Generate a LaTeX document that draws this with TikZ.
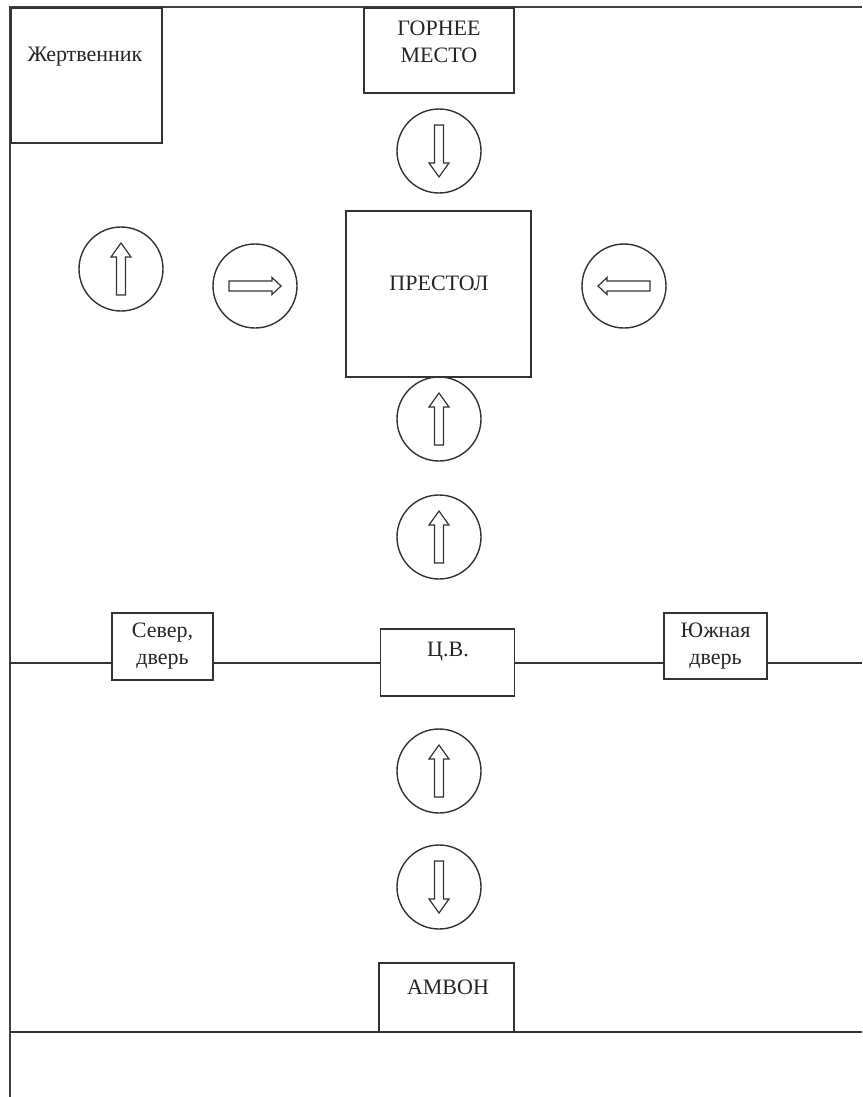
\documentclass[tikz,border=0pt]{standalone}
\usepackage{fontspec}
\setmainfont{Liberation Serif}
\begin{document}
\begin{tikzpicture}[x=1pt,y=-1pt,
  ink/.style={draw=black!80, line width=1.5pt},
  frameline/.style={draw=black!75, line width=2pt},
  box/.style={ink, rectangle, inner sep=0pt, outer sep=0pt, fill=white},
  ring/.style={draw=black!80, line width=1.4pt, circle, inner sep=0pt, outer sep=0pt, minimum size=84pt},
  lbl/.style={inner sep=0pt, align=center, font=\fontsize{22}{27}\selectfont, text=black!85},
  arrowline/.style={draw=black!80, line width=1.2pt, fill=white, line join=miter},
  varrow/.pic={\draw[arrowline] (-26,-4.5) -- (12,-4.5) -- (12,-10) -- (26,0) -- (12,10) -- (12,4.5) -- (-26,4.5) -- cycle;},
  harrow/.pic={\draw[arrowline] (-26,-5) -- (17,-5) -- (17,-8.5) -- (26,0) -- (17,8.5) -- (17,5) -- (-26,5) -- cycle;}
]
\useasboundingbox (0,0) rectangle (862,1097);
\fill[white] (0,0) rectangle (862,1097);

% frame
\coordinate (tl) at (10,7);
\coordinate (tr) at (862,7);
\coordinate (bl) at (10,1097);
\draw[frameline] (tr) -- (tl) -- (bl);

% boxes
\node[box, minimum width=151pt, minimum height=135pt] (zh) at (86.5,75.5) {};
\node[lbl] (zht) at (85,57) {Жертвенник};

\node[box, minimum width=150pt, minimum height=85pt] (gm) at (439,50.5) {};
\node[lbl] (gmt) at (439,41.5) {ГОРНЕЕ\\МЕСТО};

\node[box, minimum width=185pt, minimum height=166pt] (pr) at (438.5,294) {};
\node[lbl] (prt) at (439,283) {ПРЕСТОЛ};

% middle wall line
\coordinate (wl) at (10,663);
\coordinate (wr) at (862,663);
\node[box, minimum width=101pt, minimum height=67pt] (sd) at (162.5,646.5) {};
\node[lbl] (sdt) at (162.5,646.5) {Север,\\дверь};
\node[box, minimum width=134pt, minimum height=67pt] (cv) at (447.5,662.5) {};
\node[lbl] (cvt) at (448,652) {Ц.В.};
\node[box, minimum width=103pt, minimum height=66pt] (yd) at (715.5,646) {};
\node[lbl] (ydt) at (715.5,646.5) {Южная\\дверь};
\draw[ink] (wl) -- (sd.west |- wl);
\draw[ink] (sd.east |- wl) -- (cv.west |- wl);
\draw[ink] (cv.east |- wl) -- (yd.west |- wl);
\draw[ink] (yd.east |- wl) -- (wr);

% bottom line and ambo
\coordinate (bbl) at (10,1032);
\coordinate (bbr) at (862,1032);
\draw[ink] (bbl) -- (bbr);
\node[box, minimum width=135pt, minimum height=69pt] (am) at (446.5,997.5) {};
\node[lbl] (amt) at (448,987) {АМВОН};

% circles with arrows
\node[ring] (cgm) at (439,151) {};
\pic[rotate=-90] at (cgm) {varrow};

\node[ring] (cl1) at (121,269) {};
\pic[rotate=90] at (cl1) {varrow};

\node[ring] (cl2) at (255,286) {};
\pic at (cl2) {harrow};

\node[ring] (cr) at (624,286) {};
\pic[rotate=180] at (cr) {harrow};

\node[ring] (cb1) at (439,419) {};
\pic[rotate=90] at (cb1) {varrow};

\node[ring] (cb2) at (439,537) {};
\pic[rotate=90] at (cb2) {varrow};

\node[ring] (cn1) at (439,771) {};
\pic[rotate=90] at (cn1) {varrow};

\node[ring] (cn2) at (439,887) {};
\pic[rotate=-90] at (cn2) {varrow};
\end{tikzpicture}
\end{document}
